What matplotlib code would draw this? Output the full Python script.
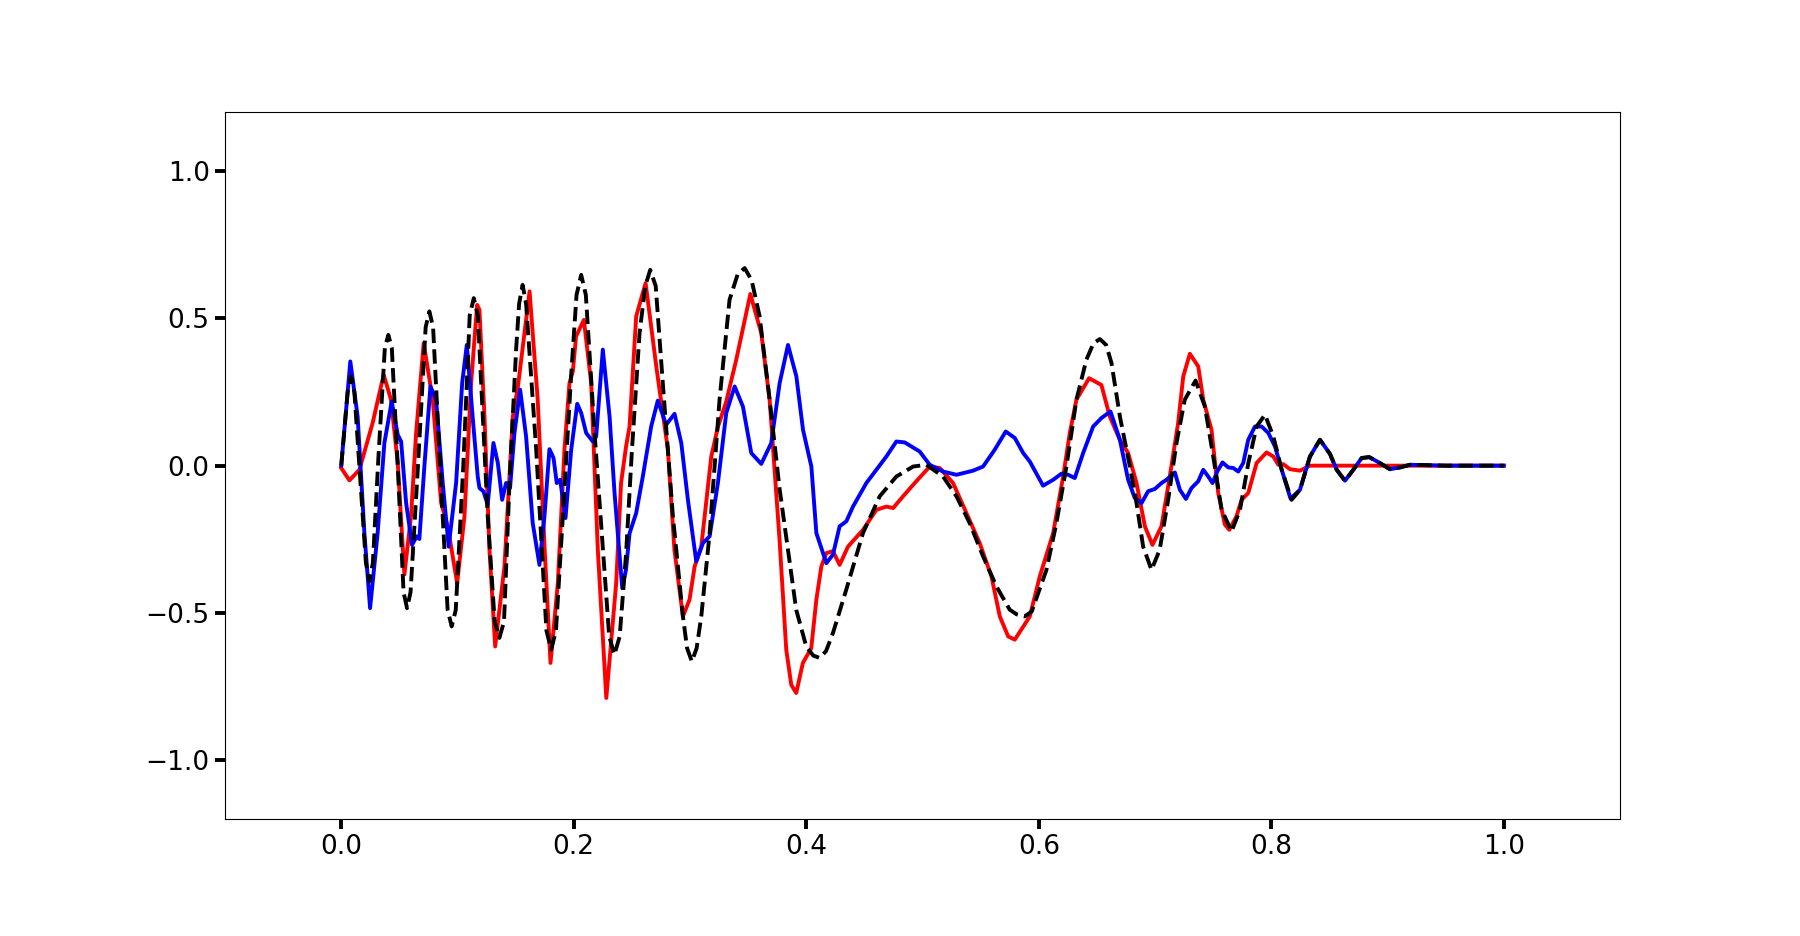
import matplotlib
matplotlib.use("Agg")
import matplotlib.pyplot as plt

# values
x_black = [0.0, 0.0055, 0.0084, 0.0113, 0.0163, 0.0212, 0.0242, 0.0272, 0.032, 0.0375,
           0.0405, 0.0435, 0.0486, 0.0536, 0.0566, 0.0596, 0.066, 0.0726, 0.0758, 0.079,
           0.085, 0.0915, 0.095, 0.0985, 0.105, 0.1105, 0.114, 0.1175, 0.126, 0.132,
           0.136, 0.14, 0.1447, 0.1505, 0.153, 0.156, 0.159, 0.1677, 0.1765, 0.1806,
           0.1847, 0.1906, 0.1977, 0.2024, 0.2064, 0.2104, 0.2179, 0.2305, 0.235, 0.2395,
           0.245, 0.25, 0.2566, 0.2615, 0.2658, 0.2705, 0.2766, 0.2853, 0.2939, 0.2975,
           0.3016, 0.3057, 0.3097, 0.3169, 0.3254, 0.334, 0.341, 0.347, 0.353, 0.3599,
           0.3685, 0.3771, 0.3843, 0.3914, 0.4, 0.406, 0.4115, 0.417, 0.423, 0.4345,
           0.4488, 0.4632, 0.4775, 0.4919, 0.5033, 0.5177, 0.5292, 0.5406, 0.5521, 0.5636,
           0.575, 0.581, 0.588, 0.594, 0.6066, 0.6152, 0.6238, 0.6324, 0.641, 0.647,
           0.6525, 0.658, 0.6626, 0.6698, 0.6784, 0.6841, 0.6898, 0.697, 0.704, 0.7113,
           0.7185, 0.7256, 0.7349, 0.7429, 0.7501, 0.7573, 0.7659, 0.7731, 0.7803, 0.7874,
           0.7946, 0.8018, 0.809, 0.8175, 0.8247, 0.8333, 0.8419, 0.8505, 0.8563, 0.8634,
           0.8706, 0.8778, 0.8843, 0.8921, 0.9021, 0.9108, 0.9194, 0.95, 1.0]
y_black = [0.0, 0.25, 0.303, 0.25, -0.045, -0.33, -0.393, -0.33, 0.03, 0.4,
           0.444, 0.4, 0.0, -0.43, -0.484, -0.43, 0.0, 0.47, 0.524, 0.47,
           0.0, -0.49, -0.546, -0.49, 0.0, 0.51, 0.569, 0.51, -0.172, -0.53,
           -0.585, -0.53, -0.059, 0.4, 0.55, 0.614, 0.55, 0.054, -0.56, -0.625,
           -0.56, -0.172, 0.303, 0.58, 0.648, 0.58, 0.111, -0.58, -0.642, -0.58,
           -0.3, 0.05, 0.45, 0.61, 0.665, 0.61, 0.28, -0.172, -0.512, -0.62,
           -0.665, -0.62, -0.512, -0.229, 0.224, 0.563, 0.65, 0.671, 0.63, 0.507,
           0.224, -0.08, -0.286, -0.49, -0.614, -0.645, -0.653, -0.63, -0.568, -0.42,
           -0.229, -0.104, -0.037, -0.003, 0.003, -0.037, -0.104, -0.195, -0.308, -0.41,
           -0.489, -0.505, -0.512, -0.495, -0.354, -0.195, -0.003, 0.224, 0.36, 0.415,
           0.43, 0.41, 0.348, 0.167, -0.003, -0.127, -0.275, -0.354, -0.286, -0.116,
           0.077, 0.224, 0.289, 0.201, 0.031, -0.15, -0.223, -0.15, 0.009, 0.133,
           0.173, 0.099, -0.014, -0.116, -0.082, 0.031, 0.088, 0.04, -0.014, -0.051,
           -0.014, 0.026, 0.029, 0.012, -0.012, -0.006, 0.003, 0.0, 0.0]

x_red = [0.0, 0.007, 0.0156, 0.027, 0.0365, 0.0428, 0.0486, 0.0543, 0.06, 0.0644,
         0.0709, 0.0787, 0.0859, 0.0916, 0.0997, 0.106, 0.1117, 0.1169, 0.1189, 0.1232,
         0.1275, 0.1324, 0.1404, 0.1476, 0.152, 0.162, 0.169, 0.175, 0.18, 0.1863,
         0.192, 0.1963, 0.1992, 0.202, 0.2087, 0.215, 0.2207, 0.228, 0.2365, 0.2407,
         0.245, 0.248, 0.2537, 0.2618, 0.271, 0.281, 0.2866, 0.2939, 0.2996, 0.304,
         0.3097, 0.3183, 0.3241, 0.3312, 0.3398, 0.3519, 0.3613, 0.3685, 0.377, 0.3828,
         0.3871, 0.3914, 0.3971, 0.4043, 0.4087, 0.413, 0.4173, 0.423, 0.4287, 0.4359,
         0.4488, 0.4603, 0.4689, 0.4747, 0.4833, 0.4933, 0.5062, 0.5148, 0.5263, 0.5378,
         0.5492, 0.5593, 0.5665, 0.5737, 0.5794, 0.5923, 0.6009, 0.6124, 0.621, 0.6267,
         0.6324, 0.6433, 0.6539, 0.6611, 0.6697, 0.6769, 0.6841, 0.6913, 0.6978, 0.7056,
         0.7127, 0.7199, 0.7243, 0.73, 0.7372, 0.7415, 0.7486, 0.7544, 0.7601, 0.7639,
         0.7701, 0.7745, 0.7802, 0.7874, 0.796, 0.8018, 0.8061, 0.8104, 0.8161, 0.8247,
         0.8333, 0.9, 1.0]
y_red = [-0.008, -0.05, -0.014, 0.145, 0.309, 0.224, 0.009, -0.37, -0.172, 0.111,
         0.416, 0.224, -0.127, -0.206, -0.399, -0.172, 0.28, 0.546, 0.529, 0.167,
         -0.286, -0.614, -0.342, 0.167, 0.269, 0.592, 0.224, -0.286, -0.67, -0.399,
         0.054, 0.28, 0.32, 0.439, 0.495, 0.28, -0.286, -0.789, -0.399, -0.059,
         0.065, 0.133, 0.507, 0.62, 0.337, 0.054, -0.286, -0.512, -0.455, -0.342,
         -0.275, 0.031, 0.133, 0.218, 0.36, 0.583, 0.45, 0.224, -0.25, -0.625,
         -0.744, -0.772, -0.67, -0.62, -0.455, -0.342, -0.297, -0.29, -0.337, -0.275,
         -0.218, -0.15, -0.139, -0.144, -0.104, -0.059, -0.003, -0.008, -0.059, -0.161,
         -0.263, -0.376, -0.512, -0.58, -0.591, -0.512, -0.376, -0.229, -0.037, 0.111,
         0.224, 0.297, 0.274, 0.167, 0.088, 0.043, -0.059, -0.206, -0.269, -0.206,
         -0.037, 0.145, 0.303, 0.38, 0.337, 0.224, 0.122, -0.093, -0.2, -0.218,
         -0.172, -0.116, -0.093, 0.009, 0.045, 0.031, 0.003, 0.005, -0.012, -0.017,
         0.0, 0.0, 0.0]

x_blue = [0.0, 0.0078, 0.0141, 0.0199, 0.0248, 0.0313, 0.0371, 0.0434, 0.0486, 0.0515,
          0.0558, 0.0609, 0.0649, 0.0672, 0.0715, 0.0767, 0.0816, 0.0873, 0.0924, 0.0988,
          0.104, 0.108, 0.113, 0.1174, 0.1189, 0.1223, 0.126, 0.1309, 0.1347, 0.1384,
          0.1418, 0.1452, 0.149, 0.1539, 0.159, 0.1647, 0.1705, 0.1748, 0.1791, 0.1826,
          0.1854, 0.1883, 0.1929, 0.1978, 0.203, 0.2064, 0.2107, 0.2164, 0.2193, 0.225,
          0.2308, 0.2351, 0.2417, 0.245, 0.248, 0.2537, 0.2594, 0.2666, 0.2723, 0.2795,
          0.2867, 0.2925, 0.2982, 0.3054, 0.3111, 0.3169, 0.324, 0.3312, 0.3384, 0.3455,
          0.3527, 0.3613, 0.3699, 0.3771, 0.3843, 0.3915, 0.3972, 0.4044, 0.4087, 0.4173,
          0.423, 0.4287, 0.4345, 0.4402, 0.4517, 0.4603, 0.4689, 0.4775, 0.4847, 0.4976,
          0.5062, 0.5177, 0.5292, 0.5435, 0.5521, 0.5621, 0.5716, 0.5794, 0.5866, 0.5923,
          0.6037, 0.6124, 0.6196, 0.6253, 0.631, 0.6382, 0.6468, 0.654, 0.6617, 0.6698,
          0.6769, 0.6826, 0.6884, 0.6941, 0.6999, 0.7056, 0.7099, 0.7171, 0.7214, 0.7266,
          0.7314, 0.7372, 0.7415, 0.7458, 0.7495, 0.7535, 0.7581, 0.763, 0.7673, 0.7716,
          0.7759, 0.7802, 0.786, 0.7917, 0.7975, 0.8032, 0.809, 0.8166, 0.8247, 0.8333,
          0.8419, 0.8505, 0.8563, 0.8634, 0.8706, 0.8778, 0.8843, 0.8921, 0.9021, 0.9108,
          0.9194, 0.95, 1.0]
y_blue = [0.0, 0.354, 0.167, -0.229, -0.484, -0.229, 0.077, 0.218, 0.105, 0.082,
          -0.127, -0.269, -0.24, -0.249, -0.003, 0.269, 0.224, -0.059, -0.275, -0.059,
          0.28, 0.41, 0.167, -0.037, -0.076, -0.087, -0.133, 0.077, 0.009, -0.116,
          -0.059, -0.076, 0.111, 0.258, 0.099, -0.195, -0.337, -0.172, 0.056, 0.026,
          -0.059, -0.048, -0.178, 0.054, 0.21, 0.179, 0.111, 0.082, 0.099, 0.394,
          0.167, -0.093, -0.416, -0.352, -0.23, -0.161, -0.037, 0.133, 0.221, 0.139,
          0.176, 0.077, -0.116, -0.325, -0.263, -0.24, -0.059, 0.179, 0.269, 0.201,
          0.043, 0.006, 0.077, 0.28, 0.41, 0.303, 0.122, -0.003, -0.229, -0.331,
          -0.302, -0.206, -0.189, -0.139, -0.059, -0.014, 0.031, 0.082, 0.079, 0.048,
          0.003, -0.02, -0.031, -0.017, -0.003, 0.054, 0.116, 0.094, 0.043, 0.014,
          -0.068, -0.048, -0.027, -0.031, -0.042, 0.043, 0.133, 0.162, 0.184, 0.088,
          -0.048, -0.11, -0.127, -0.087, -0.079, -0.059, -0.048, -0.023, -0.082, -0.113,
          -0.076, -0.053, -0.014, -0.037, -0.059, -0.02, 0.011, -0.006, -0.008, -0.02,
          0.009, 0.088, 0.133, 0.133, 0.111, 0.065, -0.014, -0.112, -0.082, 0.031,
          0.088, 0.04, -0.014, -0.051, -0.014, 0.026, 0.029, 0.012, -0.012, -0.006,
          0.003, 0.0, 0.0]

xticks = [0.0, 0.2, 0.4, 0.6, 0.8, 1.0]
yticks = [-1.0, -0.5, 0.0, 0.5, 1.0]

fig, ax = plt.subplots(figsize=(18, 9.36), dpi=100)
fig.subplots_adjust(left=0.125, right=0.9, top=0.88, bottom=0.125)

ax.plot(x_red, y_red, color='red', lw=2.8)
ax.plot(x_blue, y_blue, color='blue', lw=2.8)
ax.plot(x_black, y_black, 'k--', lw=2.8)

ax.set_xlim(-0.1, 1.1)
ax.set_ylim(-1.2, 1.2)
ax.set_xticks(xticks)
ax.set_yticks(yticks)
ax.tick_params(axis='both', labelsize=19, length=7.5, width=2.8, direction='out')
for s in ax.spines.values():
    s.set_linewidth(0.8)

fig.savefig('out.png', dpi=100)
